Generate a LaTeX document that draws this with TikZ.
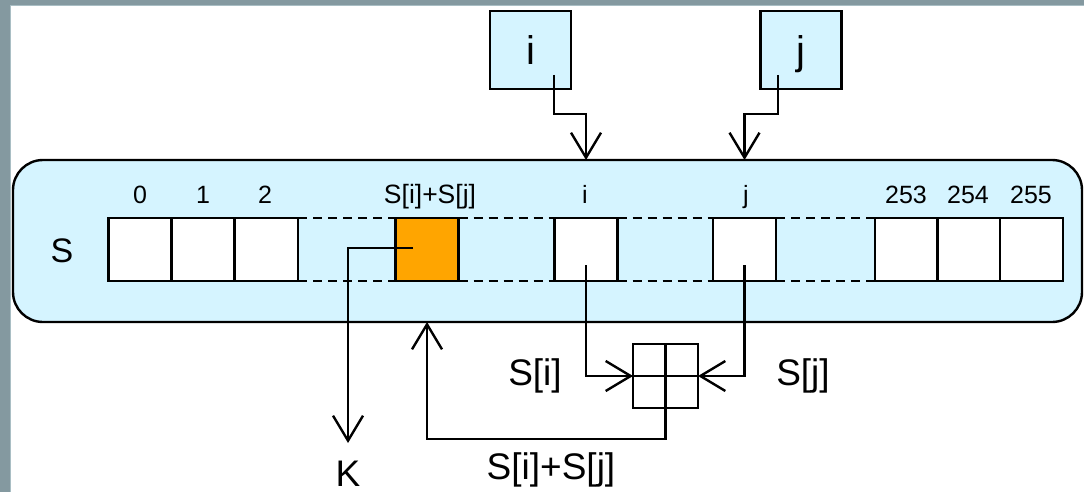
\documentclass[tikz,border=0pt]{standalone}
\usepackage{fontspec}
\setmainfont{Liberation Sans}
\usetikzlibrary{arrows.meta,calc}
\definecolor{framegrey}{HTML}{8499A0}
\definecolor{frameline}{HTML}{A9BEC4}
\definecolor{skyfill}{HTML}{D5F4FF}
\definecolor{cellorange}{HTML}{FFA500}
\begin{document}
\begin{tikzpicture}[x=1pt,y=-1pt,line width=2.4pt,
  cell/.style={draw,fill=white,minimum width=63pt,minimum height=63pt,inner sep=0pt,outer sep=0pt},
  topbox/.style={draw,fill=skyfill,minimum width=81pt,minimum height=78pt,inner sep=0pt,outer sep=0pt,
    font=\fontsize{40}{40}\selectfont,text height=29pt,text depth=0pt},
  idx/.style={anchor=base,inner sep=0pt,font=\fontsize{25}{25}\selectfont},
  biglab/.style={anchor=base,inner sep=0pt,font=\fontsize{37}{37}\selectfont},
  dashline/.style={dash pattern=on 9pt off 6pt},
  arr/.style={-{Straight Barb[length=25pt,width=30pt]}}]
\useasboundingbox (0,0) rectangle (1084,492);
\fill[framegrey] (0,0) rectangle (1084,492);
\fill[white] (11,6) rectangle (1084,492);
\draw[frameline,line width=1pt] (10.5,492) -- (10.5,5.5) -- (1084,5.5);

% big container
\node[draw,fill=skyfill,rounded corners=30pt,minimum width=1069pt,minimum height=162pt,outer sep=0pt] (big) at (547.5,241) {};
\node[anchor=base,inner sep=0pt,font=\fontsize{34}{34}\selectfont] (slab) at (62,262) {S};

% cells
\node[cell] (c0) at (140,249.5) {};
\node[cell] (c1) at (203,249.5) {};
\node[cell] (c2) at (266.5,249.5) {};
\node[cell,fill=cellorange] (co) at (427,249.5) {};
\node[cell] (ci) at (586,249.5) {};
\node[cell] (cj) at (744.5,249.5) {};
\node[cell] (c253) at (906.5,249.5) {};
\node[cell] (c254) at (969,249.5) {};
\node[cell] (c255) at (1031.5,249.5) {};

% dashed connections
\foreach \a/\b in {c2/co,co/ci,ci/cj,cj/c253}{
  \draw[dashline] (\a.north east) -- (\b.north west);
  \draw[dashline] (\a.south east) -- (\b.south west);
}

% index labels
\node[idx] (l0) at (140,203) {0};
\node[idx] (l1) at (203,203) {1};
\node[idx] (l2) at (265,203) {2};
\node[idx,font=\fontsize{26.5}{26.5}\selectfont] (lo) at (430,203) {S[i]+S[j]};
\node[idx] (li) at (585,203) {i};
\node[idx] (lj) at (746,203) {j};
\node[idx] (l253) at (906,203) {253};
\node[idx] (l254) at (968,203) {254};
\node[idx] (l255) at (1031,203) {255};

% top boxes
\node[topbox] (bi) at (530.5,50) {i};
\node[topbox] (bj) at (801,50) {j};
\draw[arr] ([xshift=23.5pt,yshift=-25pt]bi.center) -- ++(0,39) -| (ci.center |- big.north);
\draw[arr] ([xshift=-23pt,yshift=-25pt]bj.center) -- ++(0,39) -| (cj.center |- big.north);

% adder grid
\node[draw,minimum width=65pt,minimum height=64pt,inner sep=0pt,outer sep=0pt] (grid) at (665.5,376) {};
\draw (grid.north) -- (grid.south);
\draw (grid.west) -- (grid.east);

\draw[arr] ([yshift=-15.5pt]ci.center) |- (grid.west);
\draw[arr] ([yshift=-15.5pt]cj.center) |- (grid.east);
\draw[arr] (grid.south) -- ++(0,31) -| (co.center |- big.south);

% K output
\coordinate (kend) at (348,443);
\draw[arr] ([xshift=-14pt,yshift=1.5pt]co.center) -| (kend);
\node[biglab] (K) at (348,486) {K};

\node[biglab] (si) at (535,385) {S[i]};
\node[biglab] (sj) at (803,385) {S[j]};
\node[biglab] (sij) at (551,479) {S[i]+S[j]};
\end{tikzpicture}
\end{document}
